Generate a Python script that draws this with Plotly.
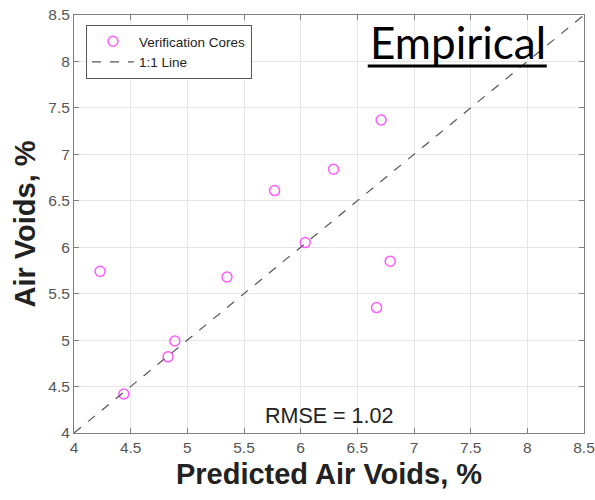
import plotly.graph_objects as go

predicted = [4.23, 4.44, 4.83, 4.89, 5.35, 5.77, 6.04, 6.29, 6.71, 6.79, 6.67]
measured = [5.74, 4.42, 4.82, 4.99, 5.68, 6.61, 6.05, 6.84, 7.37, 5.85, 5.35]
line_x = [4, 8.5]
line_y = [4, 8.5]
tick_vals = [4, 4.5, 5, 5.5, 6, 6.5, 7, 7.5, 8, 8.5]
tick_text = ["4", "4.5", "5", "5.5", "6", "6.5", "7", "7.5", "8", "8.5"]

fig = go.Figure()
fig.add_trace(go.Scatter(
    x=predicted, y=measured, mode="markers", name="Verification Cores",
    marker=dict(symbol="circle-open", size=10, color="#ff5cff", line=dict(width=1.5)),
))
fig.add_trace(go.Scatter(
    x=line_x, y=line_y, mode="lines", name="1:1 Line",
    line=dict(color="#555555", width=1.2, dash="dash"),
))

axis_common = dict(
    range=[4, 8.5], tickvals=tick_vals, ticktext=tick_text,
    showgrid=True, gridcolor="#e6e6e6", gridwidth=1,
    showline=True, linecolor="#808080", linewidth=1, mirror="ticks",
    ticks="inside", ticklen=5, tickcolor="#808080",
    tickfont=dict(family="Liberation Sans, Arial", size=15.5, color="#555555"),
    zeroline=False, automargin=False, ticklabeloverflow="allow",
)

fig.update_layout(
    width=595, height=500,
    margin=dict(l=74, r=11, t=15, b=67),
    paper_bgcolor="white", plot_bgcolor="white",
    xaxis=dict(**axis_common,
               title=dict(text="<b>Predicted Air Voids, %</b>",
                          font=dict(family="Liberation Sans, Arial", size=29, color="#222222"),
                          standoff=9)),
    yaxis=dict(**axis_common,
               title=dict(text="<b>Air Voids, %</b>",
                          font=dict(family="Liberation Sans, Arial", size=29, color="#222222"),
                          standoff=4)),
    legend=dict(x=0.0235, y=0.976, xanchor="left", yanchor="top",
                bgcolor="white", bordercolor="#555555", borderwidth=1,
                font=dict(family="Liberation Sans, Arial", size=13.5, color="#222222"),
                tracegroupgap=0, itemwidth=42),
    showlegend=True,
    annotations=[
        dict(text="RMSE = 1.02", xref="paper", yref="paper", x=0.5, y=0.041,
             xanchor="center", yanchor="middle", showarrow=False,
             font=dict(family="Liberation Sans, Arial", size=21.5, color="#222222")),
        dict(text="Empirical", xref="paper", yref="paper", x=0.752, y=0.936,
             xanchor="center", yanchor="middle", showarrow=False,
             font=dict(family="Lato, Open Sans", size=44, color="black")),
    ],
    shapes=[
        dict(type="line", xref="paper", yref="paper", x0=0.576, x1=0.927, y0=0.878, y1=0.878,
             line=dict(color="black", width=3)),
    ],
)

fig.write_html("out.html", config={"displayModeBar": False},
               post_script="document.body.style.margin='0';")
